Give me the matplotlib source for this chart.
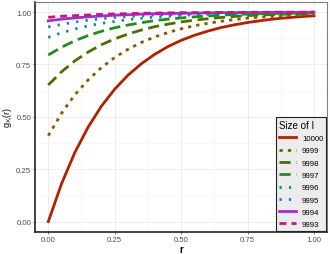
import matplotlib
matplotlib.use("Agg")
import matplotlib.pyplot as plt
from matplotlib.ticker import MultipleLocator

plt.rcParams["font.family"] = ["Liberation Sans", "DejaVu Sans"]
plt.rcParams["mathtext.fontset"] = "custom"
plt.rcParams["mathtext.rm"] = "Liberation Sans"
plt.rcParams["mathtext.it"] = "Liberation Sans:italic"

r = [0.00, 0.05, 0.10, 0.15, 0.20, 0.25, 0.30, 0.35, 0.40, 0.45, 0.50,
     0.55, 0.60, 0.65, 0.70, 0.75, 0.80, 0.85, 0.90, 0.95, 1.00]

g_10000 = [0.000, 0.181, 0.330, 0.451, 0.551, 0.632, 0.699, 0.753, 0.798, 0.835, 0.865,
           0.889, 0.909, 0.926, 0.939, 0.950, 0.959, 0.967, 0.973, 0.978, 0.982]
g_9999 = [0.410, 0.517, 0.605, 0.676, 0.735, 0.783, 0.822, 0.855, 0.881, 0.902, 0.920,
          0.935, 0.946, 0.956, 0.964, 0.971, 0.976, 0.980, 0.984, 0.987, 0.989]
g_9998 = [0.652, 0.715, 0.767, 0.809, 0.844, 0.872, 0.895, 0.914, 0.930, 0.942, 0.953,
          0.961, 0.968, 0.974, 0.979, 0.983, 0.986, 0.988, 0.990, 0.992, 0.994]
g_9997 = [0.795, 0.832, 0.863, 0.888, 0.908, 0.925, 0.938, 0.949, 0.959, 0.966, 0.972,
          0.977, 0.981, 0.985, 0.988, 0.990, 0.992, 0.993, 0.994, 0.995, 0.996]
g_9996 = [0.879, 0.901, 0.919, 0.934, 0.946, 0.955, 0.964, 0.970, 0.976, 0.980, 0.984,
          0.987, 0.989, 0.991, 0.993, 0.994, 0.995, 0.996, 0.997, 0.997, 0.998]
g_9995 = [0.929, 0.941, 0.952, 0.961, 0.968, 0.974, 0.978, 0.982, 0.986, 0.988, 0.990,
          0.992, 0.994, 0.995, 0.996, 0.996, 0.997, 0.998, 0.998, 0.998, 0.999]
g_9994 = [0.958, 0.966, 0.972, 0.977, 0.981, 0.985, 0.987, 0.990, 0.992, 0.993, 0.994,
          0.995, 0.996, 0.997, 0.997, 0.998, 0.998, 0.999, 0.999, 0.999, 0.999]
g_9993 = [0.975, 0.980, 0.983, 0.986, 0.989, 0.991, 0.992, 0.994, 0.995, 0.996, 0.997,
          0.997, 0.998, 0.998, 0.998, 0.999, 0.999, 0.999, 0.999, 0.999, 1.000]

labels = ["10000", "9999", "9998", "9997", "9996", "9995", "9994", "9993"]
series = [g_10000, g_9999, g_9998, g_9997, g_9996, g_9995, g_9994, g_9993]
colors = ["#b22000", "#8b5a00", "#4a7000", "#228b22", "#008b8b", "#1874cd", "#9a32cd", "#c71585"]
styles = ["-", (0, (1.2, 1.8)), (0, (4, 2)), (0, (4, 2)), (0, (0.8, 2.6)),
          (0, (0.8, 2.6)), "-", (0, (2.5, 1.8))]

fig = plt.figure(figsize=(3.3, 2.55), dpi=100)
ax = fig.add_axes([0.106, 0.086, 0.886, 0.904])

for y, lab, c, ls in zip(series, labels, colors, styles):
    ax.plot(r, y, color=c, linestyle=ls, lw=2.0, label=lab, zorder=3)

ax.set_xlim(-0.05, 1.05)
ax.set_ylim(-0.05, 1.05)
ax.xaxis.set_major_locator(MultipleLocator(0.25))
ax.yaxis.set_major_locator(MultipleLocator(0.25))
ax.xaxis.set_minor_locator(MultipleLocator(0.125))
ax.yaxis.set_minor_locator(MultipleLocator(0.125))
ax.xaxis.set_major_formatter(lambda v, p: f"{v:.2f}")
ax.yaxis.set_major_formatter(lambda v, p: f"{v:.2f}")
ax.grid(which="major", color="#ebebeb", lw=0.6, zorder=0)
ax.grid(which="minor", color="#f4f4f4", lw=0.4, zorder=0)
ax.set_axisbelow(True)
ax.tick_params(which="major", length=1.5, width=0.5, color="#333333",
               labelsize=5.6, labelcolor="#4d4d4d", pad=1.2)
ax.tick_params(which="minor", length=0)
for s in ["top", "right"]:
    ax.spines[s].set_color("#7f7f7f")
    ax.spines[s].set_linewidth(0.8)
for s in ["left", "bottom"]:
    ax.spines[s].set_color("#222222")
    ax.spines[s].set_linewidth(1.2)

ax.set_xlabel("r", fontsize=7, fontweight="bold", labelpad=0.5)
ax.set_ylabel(r"$\mathregular{g_{X_i}(r)}$", fontsize=6.5, labelpad=1)

leg = ax.legend(title="Size of I", loc="lower right", bbox_to_anchor=(0.997, 0.004),
                fontsize=5.6, title_fontsize=7, frameon=True, fancybox=False,
                edgecolor="#222222", facecolor="#ececec", framealpha=1,
                handlelength=2.2, handletextpad=0.8, labelspacing=0.62,
                borderpad=0.4, borderaxespad=0)
leg._legend_box.align = "left"
leg.get_frame().set_linewidth(0.8)

fig.savefig("out.png", dpi=100)
